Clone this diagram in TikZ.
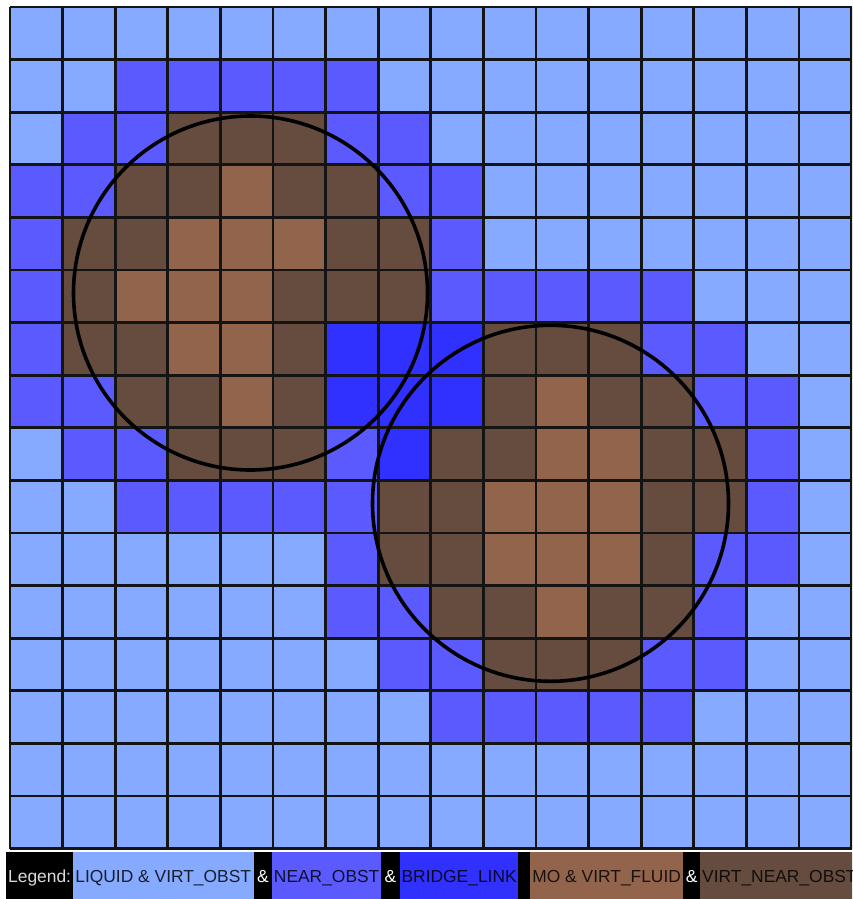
\documentclass[tikz,border=0pt]{standalone}
\usepackage{fontspec}
\setmainfont{Liberation Sans}
\definecolor{cL}{HTML}{85AAFF}
\definecolor{cN}{HTML}{5A5AFF}
\definecolor{cB}{HTML}{3030FF}
\definecolor{cM}{HTML}{93644C}
\definecolor{cV}{HTML}{654C3F}
\definecolor{lgray}{HTML}{DADADA}
\begin{document}
\begin{tikzpicture}[x=1pt,y=-1pt,
  gridline/.style={line width=2.8pt, draw=black!92},
  ring/.style={line width=3.6pt, draw=black},
  legfont/.style={font=\fontsize{17.4}{20}\selectfont, inner sep=0pt},
  legbox/.style={legfont, minimum height=50pt, text height=12.5pt, text depth=0pt, text=black, text opacity=0.82},
  amp/.style={legfont, text=white, anchor=base}]
\useasboundingbox (0,0) rectangle (852,899);
\clip (0,0) rectangle (852,899);
\fill[white] (0,0) rectangle (852,899);
\def\cs{52.6}
\foreach \row [count=\r from 0] in {
 {L,L,L,L,L,L,L,L,L,L,L,L,L,L,L,L},
 {L,L,N,N,N,N,N,L,L,L,L,L,L,L,L,L},
 {L,N,N,V,V,V,N,N,L,L,L,L,L,L,L,L},
 {N,N,V,V,M,V,V,N,N,L,L,L,L,L,L,L},
 {N,V,V,M,M,M,V,V,N,L,L,L,L,L,L,L},
 {N,V,M,M,M,V,V,V,N,N,N,N,N,L,L,L},
 {N,V,V,M,M,V,B,B,B,V,V,V,N,N,L,L},
 {N,N,V,V,M,V,B,B,B,V,M,V,V,N,N,L},
 {L,N,N,V,V,V,N,B,V,V,M,M,V,V,N,L},
 {L,L,N,N,N,N,N,V,V,M,M,M,V,V,N,L},
 {L,L,L,L,L,L,N,V,V,M,M,M,V,N,N,L},
 {L,L,L,L,L,L,N,N,V,V,M,V,V,N,L,L},
 {L,L,L,L,L,L,L,N,N,V,V,V,N,N,L,L},
 {L,L,L,L,L,L,L,L,N,N,N,N,N,L,L,L},
 {L,L,L,L,L,L,L,L,L,L,L,L,L,L,L,L},
 {L,L,L,L,L,L,L,L,L,L,L,L,L,L,L,L}}{
  \foreach \c [count=\k from 0] in \row {
    \fill[fill=c\c] ({10+\k*\cs},{7+\r*\cs}) rectangle ++(\cs,\cs);
  }
}
\foreach \i in {0,...,16}{
  \draw[gridline] ({10+\i*\cs},7) -- ({10+\i*\cs},{7+16*\cs});
  \draw[gridline] (10,{7+\i*\cs}) -- ({10+16*\cs},{7+\i*\cs});
}
\draw[ring] (250.5,293) circle (177pt);
\draw[ring] (550.5,503.3) circle (178pt);
% legend
\fill[black] (6,851.5) rectangle (852,899);
\node[legfont, text=lgray, anchor=base west] (lg) at (8,882.7) {Legend:};
\node[legbox, fill=cL, minimum width=181pt] (b1) at (163.2,876.5) {LIQUID \& VIRT\_OBST};
\node[amp] (a1) at (263,882.7) {\&};
\node[legbox, fill=cN, minimum width=108.7pt] (b2) at (326.65,876.5) {NEAR\_OBST};
\node[amp] (a2) at (390.5,882.7) {\&};
\node[legbox, fill=cB, minimum width=118.3pt] (b3) at (459.15,876.5) {BRIDGE\_LINK};
\node[legbox, fill=cM, minimum width=153.3pt] (b4) at (606.65,876.5) {MO \& VIRT\_FLUID};
\node[amp] (a3) at (691.6,882.7) {\&};
\node[legbox, fill=cV, anchor=west, inner xsep=2pt] (b5) at (700,876.5) {VIRT\_NEAR\_OBST};
\end{tikzpicture}
\end{document}
